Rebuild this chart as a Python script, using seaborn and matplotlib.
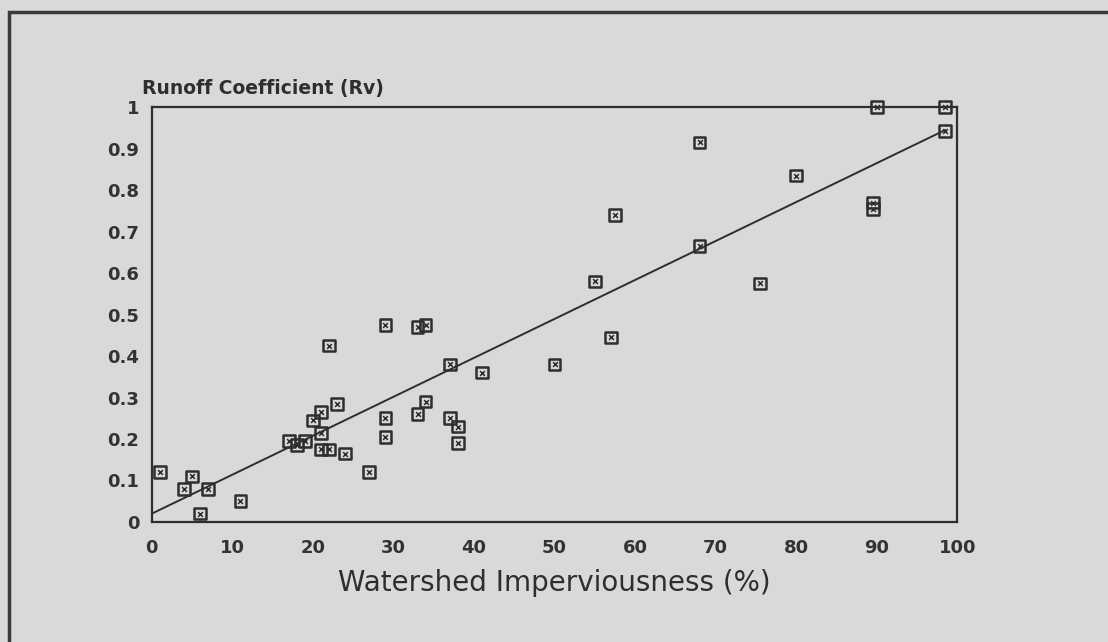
import matplotlib
matplotlib.use("Agg")
import matplotlib.pyplot as plt
import seaborn as sns
import pandas as pd
from matplotlib.patches import Rectangle

# ---- data ----
imperviousness = [1, 4, 5, 6, 7, 11, 17, 18, 19, 20, 21, 21, 21, 22, 22, 23, 24,
                  27, 29, 29, 29, 33, 34, 33, 34, 37, 37, 38, 38, 41,
                  50, 57, 57.5, 55, 68, 68, 75.5, 80, 89.5, 89.5, 90, 98.5, 98.5]
runoff_coef = [0.12, 0.08, 0.11, 0.02, 0.08, 0.05, 0.195, 0.185, 0.195, 0.245, 0.265, 0.215, 0.175, 0.175, 0.425, 0.285, 0.165,
               0.12, 0.475, 0.25, 0.205, 0.47, 0.475, 0.26, 0.29, 0.38, 0.25, 0.23, 0.19, 0.36,
               0.38, 0.445, 0.74, 0.58, 0.915, 0.665, 0.575, 0.835, 0.77, 0.755, 1.0, 1.0, 0.942]
fit_x = [0, 98.5]
fit_y = [0.02, 0.945]
x_ticks = [0, 10, 20, 30, 40, 50, 60, 70, 80, 90, 100]
y_ticks = [0, 0.1, 0.2, 0.3, 0.4, 0.5, 0.6, 0.7, 0.8, 0.9, 1]
y_tick_labels = ["0", "0.1", "0.2", "0.3", "0.4", "0.5", "0.6", "0.7", "0.8", "0.9", "1"]

df = pd.DataFrame({"imp": imperviousness, "rv": runoff_coef})
fit = pd.DataFrame({"imp": fit_x, "rv": fit_y})

sns.set_theme(style="white")
plt.rcParams["font.family"] = ["DejaVu Sans"]

bg = "#d9d9d7"
ink = "#2e2e2e"
fig = plt.figure(figsize=(11.08, 6.42), dpi=100, facecolor=bg)
ax = fig.add_axes([0.137, 0.187, 0.727, 0.646])
ax.set_facecolor(bg)

sns.lineplot(data=fit, x="imp", y="rv", ax=ax, color=ink, linewidth=1.4, zorder=2)
sns.scatterplot(data=df, x="imp", y="rv", ax=ax, marker="s", s=70,
                facecolor="none", edgecolor=ink, linewidth=1.8, zorder=3, clip_on=False)
sns.scatterplot(data=df, x="imp", y="rv", ax=ax, marker="x", s=12,
                color=ink, linewidth=1.1, zorder=4, clip_on=False)

ax.set_xlim(0, 100)
ax.set_ylim(0, 1)
ax.set_xticks(x_ticks)
ax.set_yticks(y_ticks)
ax.set_yticklabels(y_tick_labels)
for s in ax.spines.values():
    s.set_color(ink)
    s.set_linewidth(1.6)
ax.tick_params(axis="both", direction="in", length=7, width=1.4, color=ink,
               labelcolor="#333333", labelsize=13)
ax.tick_params(axis="x", pad=12)
ax.tick_params(axis="y", pad=9)
for lab in ax.get_xticklabels() + ax.get_yticklabels():
    lab.set_fontweight("bold")

ax.set_xlabel("Watershed Imperviousness (%)", fontsize=20, color=ink, labelpad=9)
ax.set_ylabel("")
fig.text(0.128, 0.862, "Runoff Coefficient (Rv)", fontsize=13.5, fontweight="bold",
         color=ink, ha="left", va="center")

# outer frame of the scanned figure
fig.patches.append(Rectangle((0.0085, -0.2), 1.2, 1.2 - 0.019, transform=fig.transFigure,
                             fill=False, edgecolor="#3a3a3a", linewidth=2.5))

fig.savefig("out.png", dpi=100, facecolor=bg)
